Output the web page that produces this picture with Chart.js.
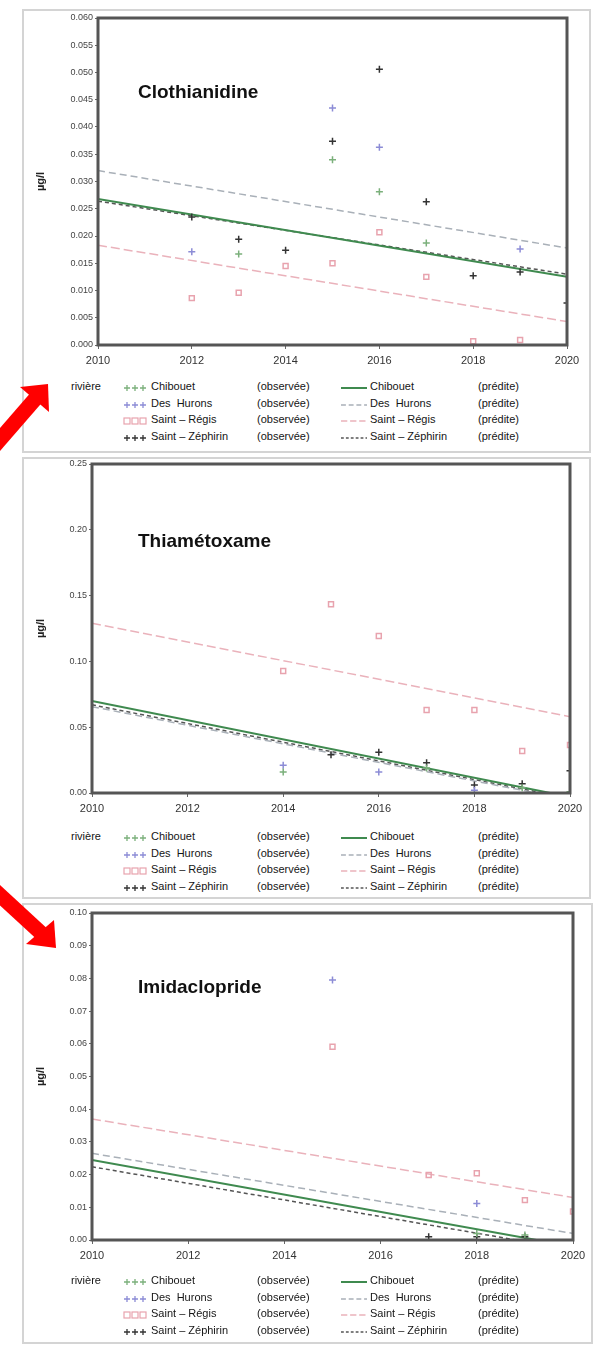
<!DOCTYPE html>
<html>
<head>
<meta charset="utf-8">
<script src="https://cdn.jsdelivr.net/npm/chart.js@4.4.1/dist/chart.umd.min.js"></script>
<style>
  body { margin: 0; background: #fff; width: 603px; height: 1347px; position: relative; overflow: hidden;
         font-family: "Liberation Sans", Arial, sans-serif; }
  .box { position: absolute; border: 2px solid #d4d4d4; box-sizing: border-box; }
  .chartwrap { position: absolute; }
  .legend { position: absolute; left: 0; width: 603px; font-size: 11px; color: #151515; }
  .legend div { position: absolute; white-space: pre; }
  #arrows { position: absolute; left: 0; top: 0; }
</style>
</head>
<body>

<div class="box" style="left:22px; top:9px; width:569px; height:444px;"></div>
<div class="box" style="left:22px; top:457px; width:569px; height:442px;"></div>
<div class="box" style="left:22px; top:903px; width:571px; height:441px;"></div>

<div class="chartwrap" style="left:22px; top:8px; width:568px; height:372px;"><canvas id="clo-chart"></canvas></div>
<div class="chartwrap" style="left:22px; top:456px; width:568px; height:372px;"><canvas id="thi-chart"></canvas></div>
<div class="chartwrap" style="left:22px; top:905px; width:570px; height:370px;"><canvas id="imi-chart"></canvas></div>

<div class="legend" id="clo-legend" style="top:380px;"></div>
<div class="legend" id="thi-legend" style="top:830px;"></div>
<div class="legend" id="imi-legend" style="top:1274px;"></div>

<svg id="arrows" width="603" height="1347">
  <line x1="-10" y1="451" x2="36" y2="398" stroke="#f00" stroke-width="15"/>
  <polygon points="48,384 20,387 49,412" fill="#f00"/>
  <line x1="-10" y1="886" x2="41" y2="933" stroke="#f00" stroke-width="15"/>
  <polygon points="56,948 26,944 54,920" fill="#f00"/>
</svg>

<script>
// observation years and the two ends of each predicted trend line
const years = [2012, 2013, 2014, 2015, 2016, 2017, 2018, 2019, 2020];
const predYears = [2010, 2020];
const rivers = ['Chibouet', 'Des  Hurons', 'Saint – Régis', 'Saint – Zéphirin'];
const yearTicks = [2010, 2012, 2014, 2016, 2018, 2020];

// Clothianidine
const cloChibouet = [null, 0.0167, null, 0.0340, 0.0281, 0.0187, null, null, null];
const cloDesHurons = [0.0171, null, null, 0.0435, 0.0363, null, null, 0.0176, null];
const cloSaintRegis = [0.0086, 0.0096, 0.0145, 0.0150, 0.0207, 0.0125, 0.0007, 0.0009, null];
const cloSaintZephirin = [0.0235, 0.0194, 0.0174, 0.0374, 0.0506, 0.0263, 0.0127, 0.0134, 0.0077];
const cloPredChibouet = [0.0268, 0.0125];
const cloPredDesHurons = [0.0320, 0.0178];
const cloPredSaintRegis = [0.0183, 0.0043];
const cloPredSaintZephirin = [0.0264, 0.0130];

// Thiamétoxame
const thiChibouet = [null, null, 0.016, null, null, 0.019, null, 0.004, 0.001];
const thiDesHurons = [null, null, 0.021, null, 0.016, null, 0.002, null, null];
const thiSaintRegis = [null, null, 0.0927, 0.1434, 0.1193, 0.063, 0.063, 0.0319, 0.0365];
const thiSaintZephirin = [null, null, null, 0.029, 0.031, 0.023, 0.006, 0.007, 0.017];
const thiPredChibouet = [0.070, -0.003];
const thiPredDesHurons = [0.0656, -0.005];
const thiPredSaintRegis = [0.129, 0.058];
const thiPredSaintZephirin = [0.067, -0.004];

// Imidaclopride
const imiChibouet = [null, null, null, null, null, null, 0.002, 0.0015, null];
const imiDesHurons = [null, null, null, 0.0795, null, null, 0.0112, null, null];
const imiSaintRegis = [null, null, null, 0.0591, null, 0.0199, 0.0204, 0.0122, 0.0087];
const imiSaintZephirin = [null, null, null, null, null, 0.001, 0.001, 0.001, null];
const imiPredChibouet = [0.0245, -0.002];
const imiPredDesHurons = [0.0265, 0.002];
const imiPredSaintRegis = [0.037, 0.013];
const imiPredSaintZephirin = [0.0224, -0.003];

// look of each river, observed markers then predicted line
const obsStyles = [
  { color: '#7bb07b', point: 'cross' },
  { color: '#8c8cd6', point: 'cross' },
  { color: '#e8a3ae', point: 'rect' },
  { color: '#333333', point: 'cross' }
];
const predStyles = [
  { color: '#3f8a4f', width: 2, dash: [] },
  { color: '#a9b0b8', width: 1.5, dash: [7, 4] },
  { color: '#eab2bb', width: 1.5, dash: [9, 4] },
  { color: '#555555', width: 1.5, dash: [4, 3] }
];

const framePlugin = {
  id: 'frame',
  afterDraw(chart) {
    const { ctx, chartArea: a } = chart;
    ctx.save();
    ctx.strokeStyle = '#555';
    ctx.lineWidth = 3;
    ctx.strokeRect(a.left, a.top, a.right - a.left, a.bottom - a.top);
    const lbl = chart.options.plugins.frame;
    ctx.fillStyle = '#111';
    ctx.font = 'bold 19px "Liberation Sans", Arial, sans-serif';
    ctx.textBaseline = 'alphabetic';
    ctx.fillText(lbl.text, a.left + lbl.dx, a.top + lbl.dy);
    ctx.restore();
  }
};

function renderPanel(canvasId, label, obs, pred, yMax, yStep, decimals, geo) {
  const datasets = [];
  obs.forEach((vals, i) => {
    datasets.push({
      label: rivers[i] + ' (observée)',
      data: years.map((y, k) => ({ x: y, y: vals[k] })).filter(p => p.y !== null),
      showLine: false,
      pointStyle: obsStyles[i].point,
      pointRadius: 3.5,
      borderColor: obsStyles[i].color,
      backgroundColor: 'rgba(0,0,0,0)',
      pointBorderWidth: 1.5
    });
  });
  pred.forEach((vals, i) => {
    datasets.push({
      label: rivers[i] + ' (prédite)',
      data: predYears.map((y, k) => ({ x: y, y: vals[k] })),
      showLine: true,
      pointRadius: 0,
      borderColor: predStyles[i].color,
      borderWidth: predStyles[i].width,
      borderDash: predStyles[i].dash
    });
  });

  new Chart(document.getElementById(canvasId), {
    type: 'scatter',
    data: { datasets },
    options: {
      responsive: true,
      maintainAspectRatio: false,
      animation: false,
      layout: { padding: { left: 8, right: geo.right, top: geo.top, bottom: 0 } },
      plugins: {
        legend: { display: false },
        tooltip: { enabled: false },
        frame: { text: label, dx: geo.labelX, dy: geo.labelY }
      },
      scales: {
        x: {
          type: 'linear',
          min: 2010,
          max: 2020,
          afterFit: s => { s.height = 35; },
          afterBuildTicks: s => { s.ticks = yearTicks.map(v => ({ value: v })); },
          ticks: {
            callback: v => String(v),
            color: '#333',
            font: { size: 11, family: '"Liberation Sans", Arial' },
            padding: 5,
            maxRotation: 0
          },
          grid: { display: true, drawOnChartArea: false, tickLength: 4, color: '#666' },
          border: { display: false }
        },
        y: {
          min: 0,
          max: yMax,
          afterFit: s => { s.width = geo.yWidth; },
          ticks: {
            stepSize: yStep,
            autoSkip: false,
            callback: v => Number(v).toFixed(decimals),
            color: '#444',
            font: { size: 9, family: '"Liberation Sans", Arial' },
            padding: 2
          },
          grid: { display: true, drawOnChartArea: false, tickLength: 3, color: '#666' },
          border: { display: false },
          title: {
            display: true,
            text: 'µg/l',
            color: '#222',
            font: { size: 11, weight: 'bold', family: '"Liberation Sans", Arial' }
          }
        }
      }
    },
    plugins: [framePlugin]
  });
}

function renderLegend(id) {
  const el = document.getElementById(id);
  const rowH = 16.7;
  let html = '<div style="left:71px; top:0px;">rivière</div>';
  rivers.forEach((name, i) => {
    const top = i * rowH;
    const o = obsStyles[i];
    const p = predStyles[i];
    let marks = '';
    [4, 12, 20].forEach(cx => {
      if (o.point === 'rect') {
        marks += `<rect x="${cx - 3}" y="3" width="6" height="6" fill="none" stroke="${o.color}" stroke-width="1.2"/>`;
      } else {
        marks += `<path d="M${cx - 3} 6 H${cx + 3} M${cx} 3 V9" stroke="${o.color}" stroke-width="1.3"/>`;
      }
    });
    html += `<div style="left:123px; top:${top + 2}px;"><svg width="26" height="12">${marks}</svg></div>`;
    html += `<div style="left:151px; top:${top}px;">${name}</div>`;
    html += `<div style="left:257px; top:${top}px;">(observée)</div>`;
    html += `<div style="left:341px; top:${top + 2}px;"><svg width="26" height="12"><line x1="0" y1="6" x2="26" y2="6" stroke="${p.color}" stroke-width="${p.width}" stroke-dasharray="${p.dash.map(d => d * 0.7).join(' ')}"/></svg></div>`;
    html += `<div style="left:370px; top:${top}px;">${name}</div>`;
    html += `<div style="left:478px; top:${top}px;">(prédite)</div>`;
  });
  el.innerHTML = html;
}

document.addEventListener('DOMContentLoaded', () => {
  renderPanel('clo-chart', 'Clothianidine',
    [cloChibouet, cloDesHurons, cloSaintRegis, cloSaintZephirin],
    [cloPredChibouet, cloPredDesHurons, cloPredSaintRegis, cloPredSaintZephirin],
    0.06, 0.005, 3, { right: 23, top: 10, yWidth: 68, labelX: 40, labelY: 80 });

  renderPanel('thi-chart', 'Thiamétoxame',
    [thiChibouet, thiDesHurons, thiSaintRegis, thiSaintZephirin],
    [thiPredChibouet, thiPredDesHurons, thiPredSaintRegis, thiPredSaintZephirin],
    0.25, 0.05, 2, { right: 20, top: 8, yWidth: 62, labelX: 46, labelY: 83 });

  renderPanel('imi-chart', 'Imidaclopride',
    [imiChibouet, imiDesHurons, imiSaintRegis, imiSaintZephirin],
    [imiPredChibouet, imiPredDesHurons, imiPredSaintRegis, imiPredSaintZephirin],
    0.1, 0.01, 2, { right: 19, top: 8, yWidth: 62, labelX: 46, labelY: 80 });

  renderLegend('clo-legend');
  renderLegend('thi-legend');
  renderLegend('imi-legend');
});
</script>
</body>
</html>
